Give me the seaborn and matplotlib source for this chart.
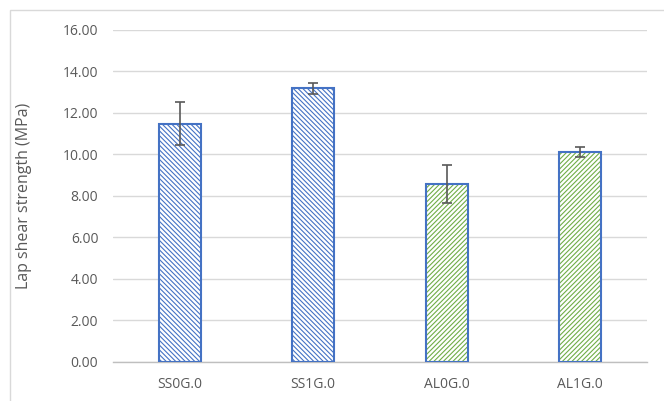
import matplotlib
matplotlib.use("Agg")
import matplotlib.pyplot as plt
from matplotlib.patches import Rectangle
import seaborn as sns

# data
samples = ["SS0G.0", "SS1G.0", "AL0G.0", "AL1G.0"]
strength = [11.49, 13.18, 8.58, 10.12]
strength_err = [1.05, 0.25, 0.90, 0.26]

blue = "#4472C4"
green = "#70AD47"
hatch_colors = [blue, blue, green, green]
hatches = ["\\" * 7, "\\" * 7, "/" * 7, "/" * 7]

sns.set_theme(style="white")
plt.rcParams["font.family"] = ["Open Sans", "DejaVu Sans"]
plt.rcParams["hatch.linewidth"] = 0.8

fig = plt.figure(figsize=(6.64, 4.01), dpi=100)
ax = fig.add_axes([0.170, 0.0973, 0.804, 0.828])

# outer chart frame
fig.patches.append(Rectangle((10 / 664, -0.1), 1.2, 1 - 10 / 401 + 0.1,
                             transform=fig.transFigure, fill=False,
                             edgecolor="#D9D9D9", linewidth=1.0, zorder=0))

sns.barplot(x=samples, y=strength, color="white", width=0.315, ax=ax,
            saturation=1, zorder=2)

for p, hc, h in zip(ax.patches, hatch_colors, hatches):
    p.set_hatch(h)
    p.set_edgecolor(hc)
    p.set_linewidth(0)
    ax.add_patch(Rectangle(p.get_xy(), p.get_width(), p.get_height(),
                           fill=False, edgecolor=blue, linewidth=1.5, zorder=3))

ax.errorbar(range(len(samples)), strength, yerr=strength_err, fmt="none",
            ecolor="#595959", elinewidth=1.2, capsize=3.3, capthick=1.2, zorder=4)

ax.set_ylim(0, 16)
ax.set_xlim(-0.5, 3.5)
ax.set_yticks(range(0, 17, 2))
ax.set_yticklabels([f"{v:.2f}" for v in range(0, 17, 2)])
ax.yaxis.grid(True, color="#D9D9D9", linewidth=1.0)
ax.set_axisbelow(True)
for s in ["top", "right", "left"]:
    ax.spines[s].set_visible(False)
ax.spines["bottom"].set_color("#BFBFBF")
ax.spines["bottom"].set_linewidth(1.0)
ax.tick_params(axis="y", length=0, labelsize=10, colors="#595959", pad=10.5)
ax.tick_params(axis="x", length=0, labelsize=10, colors="#595959", pad=11)
ax.set_ylabel("Lap shear strength (MPa)", fontsize=11.5, color="#595959", labelpad=22)

fig.savefig("out.png", dpi=100)
